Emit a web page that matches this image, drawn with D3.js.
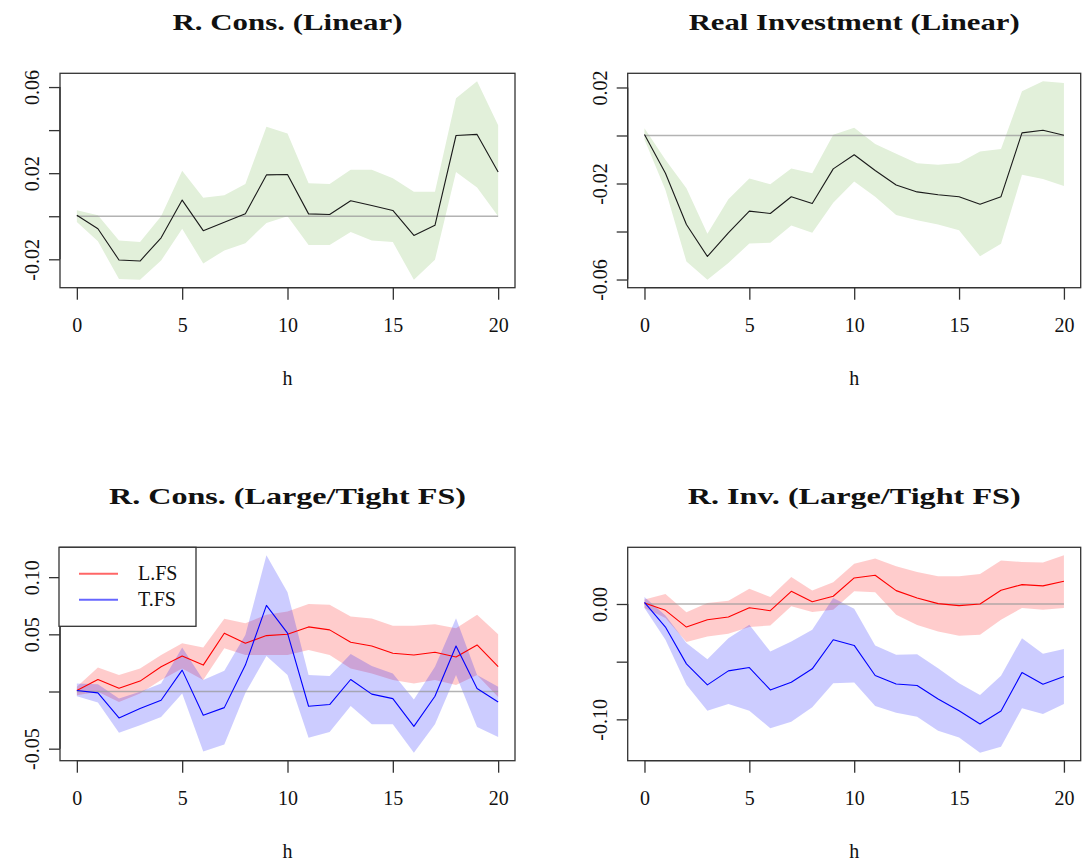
<!DOCTYPE html>
<html>
<head>
<meta charset="utf-8">
<script src="https://cdn.jsdelivr.net/npm/d3@7"></script>
<style>
  body { margin: 0; background: #fff; }
  svg { display: block; }
  text { font-family: "Liberation Serif", "Times New Roman", serif; fill: #111; }
</style>
</head>
<body>
<svg id="chart" width="1085" height="867"></svg>
<script>
// ---------------- data ----------------
const horizons = d3.range(0, 21);
const xTicks = [0, 5, 10, 15, 20];
const xLabel = "h";

const titles = ["R. Cons. (Linear)", "Real Investment (Linear)", "R. Cons. (Large/Tight FS)", "R. Inv. (Large/Tight FS)"];

// Panel 1: Real consumption, linear
const consLin      = [0.0005,-0.0058,-0.0203,-0.0208,-0.0100,0.0075,-0.0067,-0.0028,0.0012,0.0192,0.0194,0.0011,0.0008,0.0072,0.0050,0.0027,-0.0089,-0.0042,0.0375,0.0380,0.0205];
const consLinUp    = [0.0028,0.0005,-0.0113,-0.0120,0.0000,0.0211,0.0086,0.0098,0.0150,0.0416,0.0384,0.0153,0.0150,0.0216,0.0216,0.0177,0.0114,0.0114,0.0548,0.0627,0.0423];
const consLinLo    = [-0.0027,-0.0116,-0.0292,-0.0295,-0.0206,-0.0058,-0.0219,-0.0159,-0.0125,-0.0031,0.0000,-0.0133,-0.0133,-0.0073,-0.0113,-0.0120,-0.0295,-0.0202,0.0205,0.0133,0.0000];

// Panel 2: Real investment, linear
const invLin       = [0.0004,-0.0157,-0.0371,-0.0504,-0.0406,-0.0315,-0.0325,-0.0255,-0.0283,-0.0139,-0.0080,-0.0146,-0.0206,-0.0235,-0.0247,-0.0255,-0.0286,-0.0255,0.0011,0.0022,0.0001];
const invLinUp     = [0.0030,-0.0101,-0.0220,-0.0409,-0.0266,-0.0179,-0.0203,-0.0137,-0.0157,0.0003,0.0032,-0.0035,-0.0076,-0.0116,-0.0122,-0.0115,-0.0067,-0.0056,0.0184,0.0226,0.0219];
const invLinLo     = [-0.0017,-0.0227,-0.0525,-0.0601,-0.0531,-0.0450,-0.0447,-0.0375,-0.0405,-0.0280,-0.0192,-0.0255,-0.0331,-0.0353,-0.0371,-0.0395,-0.0503,-0.0451,-0.0164,-0.0181,-0.0210];

// Panel 3: Real consumption, Large (L.FS) vs Tight (T.FS)
const consL        = [0.0009,0.0105,0.0029,0.0091,0.0217,0.0310,0.0231,0.0510,0.0422,0.0489,0.0501,0.0565,0.0539,0.0431,0.0398,0.0334,0.0319,0.0343,0.0302,0.0407,0.0217];
const consLUp      = [0.0041,0.0211,0.0144,0.0202,0.0319,0.0422,0.0384,0.0636,0.0598,0.0671,0.0700,0.0765,0.0759,0.0656,0.0639,0.0574,0.0574,0.0589,0.0554,0.0671,0.0501];
const consLLo      = [-0.0032,-0.0003,-0.0091,-0.0018,0.0100,0.0202,0.0100,0.0378,0.0319,0.0319,0.0319,0.0363,0.0319,0.0202,0.0158,0.0100,0.0070,0.0100,0.0056,0.0144,-0.0047];
const consT        = [0.0009,-0.0012,-0.0231,-0.0149,-0.0076,0.0187,-0.0208,-0.0141,0.0231,0.0753,0.0510,-0.0129,-0.0114,0.0105,-0.0023,-0.0062,-0.0305,-0.0041,0.0398,0.0026,-0.0091];
const consTUp      = [0.0070,0.0064,-0.0062,-0.0003,0.0070,0.0384,0.0100,0.0182,0.0495,0.1192,0.0867,0.0144,0.0135,0.0328,0.0223,0.0158,-0.0070,0.0217,0.0641,0.0144,0.0041];
const consTLo      = [-0.0041,-0.0097,-0.0360,-0.0296,-0.0223,-0.0018,-0.0524,-0.0463,-0.0012,0.0310,0.0144,-0.0404,-0.0354,-0.0126,-0.0287,-0.0287,-0.0536,-0.0287,0.0144,-0.0310,-0.0398];

// Panel 4: Real investment, Large (L.FS) vs Tight (T.FS)
const invL         = [0.0009,-0.0055,-0.0200,-0.0136,-0.0113,-0.0032,-0.0058,0.0110,0.0020,0.0067,0.0226,0.0249,0.0116,0.0052,0.0003,-0.0014,0.0000,0.0119,0.0168,0.0157,0.0197];
const invLUp       = [0.0038,0.0087,-0.0072,0.0009,0.0029,0.0133,0.0061,0.0235,0.0116,0.0188,0.0348,0.0394,0.0328,0.0278,0.0241,0.0241,0.0261,0.0377,0.0365,0.0359,0.0423];
const invLLo       = [-0.0035,-0.0122,-0.0330,-0.0281,-0.0258,-0.0200,-0.0186,-0.0020,-0.0070,-0.0049,0.0110,0.0101,-0.0093,-0.0183,-0.0238,-0.0275,-0.0267,-0.0136,-0.0035,-0.0049,-0.0035];
const invT         = [0.0014,-0.0200,-0.0519,-0.0701,-0.0580,-0.0551,-0.0745,-0.0678,-0.0562,-0.0310,-0.0359,-0.0620,-0.0693,-0.0707,-0.0823,-0.0925,-0.1040,-0.0928,-0.0594,-0.0696,-0.0629];
const invTUp       = [0.0061,-0.0099,-0.0339,-0.0478,-0.0296,-0.0180,-0.0412,-0.0325,-0.0223,0.0052,-0.0041,-0.0359,-0.0441,-0.0435,-0.0557,-0.0687,-0.0788,-0.0623,-0.0296,-0.0432,-0.0391];
const invTLo       = [-0.0035,-0.0310,-0.0701,-0.0925,-0.0867,-0.0925,-0.1078,-0.1020,-0.0896,-0.0687,-0.0681,-0.0884,-0.0942,-0.0977,-0.1099,-0.1157,-0.1290,-0.1238,-0.0904,-0.0954,-0.0867];

// y ticks and which carry a label
const yTicks1 = [-0.02, 0, 0.02, 0.04, 0.06];
const yLabels1 = ["-0.02", "", "0.02", "", "0.06"];
const yTicks2 = [-0.06, -0.04, -0.02, 0, 0.02];
const yLabels2 = ["-0.06", "", "-0.02", "", "0.02"];
const yTicks3 = [-0.05, 0, 0.05, 0.10];
const yLabels3 = ["-0.05", "", "0.05", "0.10"];
const yTicks4 = [-0.10, -0.05, 0.00];
const yLabels4 = ["-0.10", "", "0.00"];

const legendNames = ["L.FS", "T.FS"];

// ---------------- styles / layout ----------------
const GREEN_BAND = "#e2f0da";
const RED = "#ff0000", BLUE = "#0000ff";
const RED_BAND = "rgba(255,0,0,0.2)", BLUE_BAND = "rgba(0,0,255,0.2)";

const panels = [
  { title: titles[0], titleW: 230, box: [60, 73.3, 515, 287.7], yTicks: yTicks1, yLabels: yLabels1,
    series: [{ mid: consLin, up: consLinUp, lo: consLinLo, line: "#1a1a1a", band: GREEN_BAND }] },
  { title: titles[1], titleW: 331, box: [627.7, 73.3, 1080.7, 287.7], yTicks: yTicks2, yLabels: yLabels2,
    series: [{ mid: invLin, up: invLinUp, lo: invLinLo, line: "#1a1a1a", band: GREEN_BAND }] },
  { title: titles[2], titleW: 357, box: [60, 547.3, 515, 760.7], yTicks: yTicks3, yLabels: yLabels3, legend: true,
    series: [{ mid: consL, up: consLUp, lo: consLLo, line: RED, band: RED_BAND },
             { mid: consT, up: consTUp, lo: consTLo, line: BLUE, band: BLUE_BAND }] },
  { title: titles[3], titleW: 333, box: [627.7, 547.3, 1080.7, 760.7], yTicks: yTicks4, yLabels: yLabels4,
    series: [{ mid: invL, up: invLUp, lo: invLLo, line: RED, band: RED_BAND },
             { mid: invT, up: invTUp, lo: invTLo, line: BLUE, band: BLUE_BAND }] }
];

const svg = d3.select("#chart");

function ext(lo, hi) { const d = (hi - lo) * 0.04; return [lo - d, hi + d]; }

panels.forEach(p => {
  const [x0, y0, x1, y1] = p.box;
  const g = svg.append("g");
  const all = p.series.flatMap(s => [...s.up, ...s.lo, ...s.mid]);
  const x = d3.scaleLinear().domain(ext(0, 20)).range([x0, x1]);
  const y = d3.scaleLinear().domain(ext(d3.min(all), d3.max(all))).range([y1, y0]);

  // bands
  p.series.forEach(s => {
    const area = d3.area().x((d, i) => x(horizons[i])).y0((d, i) => y(s.lo[i])).y1((d, i) => y(s.up[i]));
    g.append("path").datum(s.mid).attr("d", area).attr("fill", s.band).attr("stroke", "none");
  });
  // zero line
  g.append("line").attr("x1", x(0)).attr("x2", x(20)).attr("y1", y(0)).attr("y2", y(0))
    .attr("stroke", "#9a9a9a").attr("stroke-opacity", 0.75).attr("stroke-width", 1.3);
  // lines
  p.series.forEach(s => {
    const line = d3.line().x((d, i) => x(horizons[i])).y(d => y(d));
    g.append("path").datum(s.mid).attr("d", line).attr("fill", "none")
      .attr("stroke", s.line).attr("stroke-width", 1.1).attr("stroke-linejoin", "round");
  });

  // box
  g.append("rect").attr("x", x0).attr("y", y0).attr("width", x1 - x0).attr("height", y1 - y0)
    .attr("fill", "none").attr("stroke", "#333").attr("stroke-width", 1.3);

  // x axis
  const xa = g.append("g").attr("transform", `translate(0,${y1})`)
    .call(d3.axisBottom(x).tickValues(xTicks).tickSize(12).tickPadding(18).tickFormat(d3.format("d")));
  xa.select(".domain").attr("d", `M${x(0)},0H${x(20)}`).attr("stroke", "#333").attr("stroke-width", 1.3);
  xa.selectAll(".tick line").attr("stroke", "#333").attr("stroke-width", 1.3);
  xa.selectAll(".tick text").attr("font-size", 20).attr("font-family", "Liberation Serif").attr("fill", "#111");

  // y axis
  const ya = g.append("g").attr("transform", `translate(${x0},0)`)
    .call(d3.axisLeft(y).tickValues(p.yTicks).tickSize(11)
      .tickFormat((d, i) => p.yLabels[i]));
  ya.select(".domain").attr("d", `M0,${y(p.yTicks[0])}V${y(p.yTicks[p.yTicks.length - 1])}`)
    .attr("stroke", "#333").attr("stroke-width", 1.3);
  ya.selectAll(".tick line").attr("stroke", "#333").attr("stroke-width", 1.3);
  ya.selectAll(".tick text").attr("font-size", 20).attr("font-family", "Liberation Serif").attr("fill", "#111")
    .attr("x", null).attr("dy", null)
    .attr("transform", "translate(-28,0) rotate(-90)")
    .attr("text-anchor", "middle").attr("dominant-baseline", "central");

  // x label
  g.append("text").attr("x", (x0 + x1) / 2).attr("y", y1 + 97).attr("text-anchor", "middle")
    .attr("font-size", 20).text(xLabel);

  // title
  g.append("text").attr("x", (x0 + x1) / 2).attr("y", y0 - 43).attr("text-anchor", "middle")
    .attr("font-size", 23).attr("font-weight", "bold")
    .attr("textLength", p.titleW).attr("lengthAdjust", "spacingAndGlyphs").text(p.title);

  // legend
  if (p.legend) {
    const lg = g.append("g");
    lg.append("rect").attr("x", x0 - 1).attr("y", y0).attr("width", 137).attr("height", 79)
      .attr("fill", "#fff").attr("stroke", "#333").attr("stroke-width", 1.3);
    p.series.forEach((s, i) => {
      const yy = y0 + 26.5 + i * 26;
      lg.append("line").attr("x1", x0 + 19).attr("x2", x0 + 58).attr("y1", yy).attr("y2", yy)
        .attr("stroke", s.line).attr("stroke-opacity", 0.6).attr("stroke-width", 2);
      lg.append("text").attr("x", x0 + 78).attr("y", yy).attr("dy", "0.33em")
        .attr("font-size", 20).text(legendNames[i]);
    });
  }
});
</script>
</body>
</html>
